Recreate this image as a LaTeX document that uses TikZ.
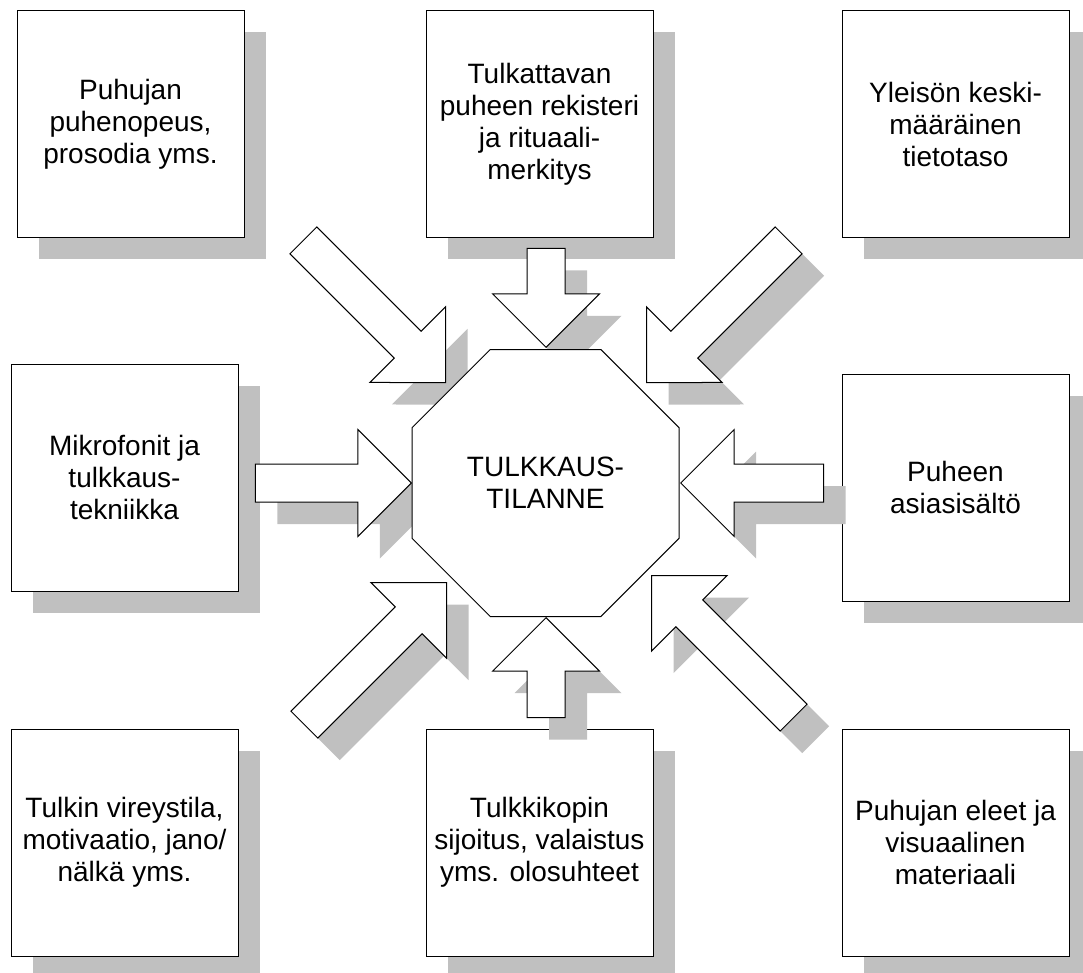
\documentclass[tikz,border=0pt]{standalone}
\usepackage{fontspec}
\setmainfont{Liberation Sans}
\usetikzlibrary{shapes.geometric,shapes.arrows,shadows}
\definecolor{shadowgray}{RGB}{192,192,192}
\begin{document}
\begin{tikzpicture}[x=1pt,y=1pt,
  softshadow/.style={drop shadow={shadow xshift=22pt,shadow yshift=-22pt,fill=shadowgray,opacity=1}},
  factor/.style={rectangle, draw=black, fill=white, line width=1pt, minimum width=227pt, minimum height=227pt, align=center, font=\fontsize{28}{32}\selectfont, softshadow},
  blockarrow/.style={single arrow, draw=black, fill=white, line width=1pt, inner xsep=0pt, inner ysep=18.5pt, single arrow head extend=34.5pt, anchor=tip, softshadow},
  situation/.style={regular polygon, regular polygon sides=8, minimum size=289pt, draw=black, fill=white, line width=1pt, align=center, font=\fontsize{28}{32}\selectfont}]
\useasboundingbox (0,0) rectangle (1083,-973);
\node [factor] (speed) at (130.5,-124) {Puhujan\\puhenopeus,\\prosodia yms.};
\node [factor] (register) at (539.5,-124) {Tulkattavan\\puheen rekisteri\\ja rituaali-\\merkitys};
\node [factor] (audience) at (955.5,-124) {Yleisön keski-\\määräinen\\tietotaso};
\node [factor] (equipment) at (124.5,-477.5) {Mikrofonit ja\\tulkkaus-\\tekniikka};
\node [factor] (content) at (955.5,-487.5) {Puheen\\asiasisältö};
\node [factor] (condition) at (124.5,-842.5) {Tulkin vireystila,\\motivaatio, jano/\\nälkä yms.};
\node [factor] (booth) at (539.5,-842.5) {Tulkkikopin\\sijoitus, valaistus\\yms. olosuhteet};
\node [factor] (gestures) at (955.5,-842.5) {Puhujan eleet ja\\visuaalinen\\materiaali};
\node [blockarrow, rotate=-45, minimum height=201pt] (arrowspeed) at (446,-383) {};
\node [blockarrow, rotate=-90, minimum height=99pt] (arrowregister) at (546,-348) {};
\node [blockarrow, rotate=-135, minimum height=201pt] (arrowaudience) at (646,-383) {};
\node [blockarrow, rotate=0, minimum height=156pt] (arrowequipment) at (412,-483) {};
\node [blockarrow, rotate=180, minimum height=143pt] (arrowcontent) at (680,-483) {};
\node [blockarrow, rotate=45, minimum height=201pt] (arrowcondition) at (447,-582) {};
\node [blockarrow, rotate=90, minimum height=100pt] (arrowbooth) at (546,-617) {};
\node [blockarrow, rotate=135, minimum height=201pt] (arrowgestures) at (651,-575) {};
\node [situation] (situation) at (545.5,-483) {TULKKAUS-\\TILANNE};
\end{tikzpicture}
\end{document}
